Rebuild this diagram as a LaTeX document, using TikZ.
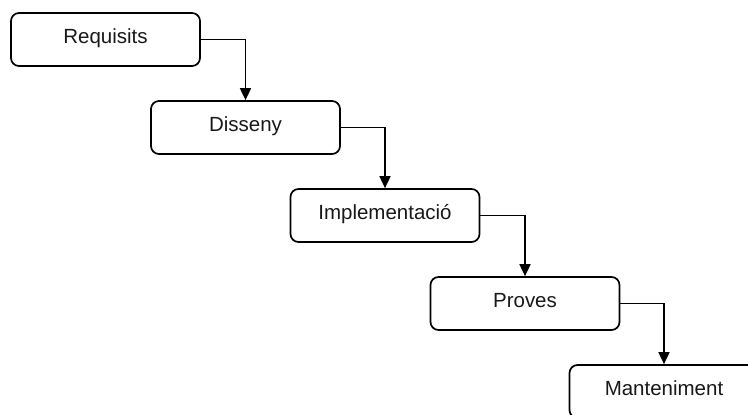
\documentclass[tikz,border=0pt]{standalone}
\usepackage{fontspec}
\setmainfont{Liberation Sans}
\usetikzlibrary{arrows.meta}
\begin{document}
\begin{tikzpicture}[x=1pt,y=-1pt,
  stage/.style={draw=black, line width=1.7pt, rounded corners=8pt, fill=white,
    minimum width=189pt, minimum height=53pt, inner sep=0pt,
    font=\fontsize{20.5}{24}\selectfont, text=black!90,
    text height=15pt, text depth=8pt},
  flow/.style={draw=black, line width=1.7pt,
    -{Triangle[width=11pt,length=12pt]}}]
  \useasboundingbox (0,0) rectangle (748,415);
  \clip (0,0) rectangle (748,415);
  \fill[white] (0,0) rectangle (748,415);
  % the five phases, stepping down to the right
  \node[stage] (req)  at (105.5,39.5)  {Requisits};
  \node[stage] (dis)  at (245.5,127.5) {Disseny};
  \node[stage] (impl) at (385,215.5)   {Implementació};
  \node[stage] (prov) at (525,303.5)   {Proves};
  \node[stage] (mant) at (664,391.5)   {Manteniment};
  % elbow connectors between consecutive phases
  \draw[flow] (req.east)  -| (dis.north);
  \draw[flow] (dis.east)  -| (impl.north);
  \draw[flow] (impl.east) -| (prov.north);
  \draw[flow] (prov.east) -| (mant.north);
\end{tikzpicture}
\end{document}
